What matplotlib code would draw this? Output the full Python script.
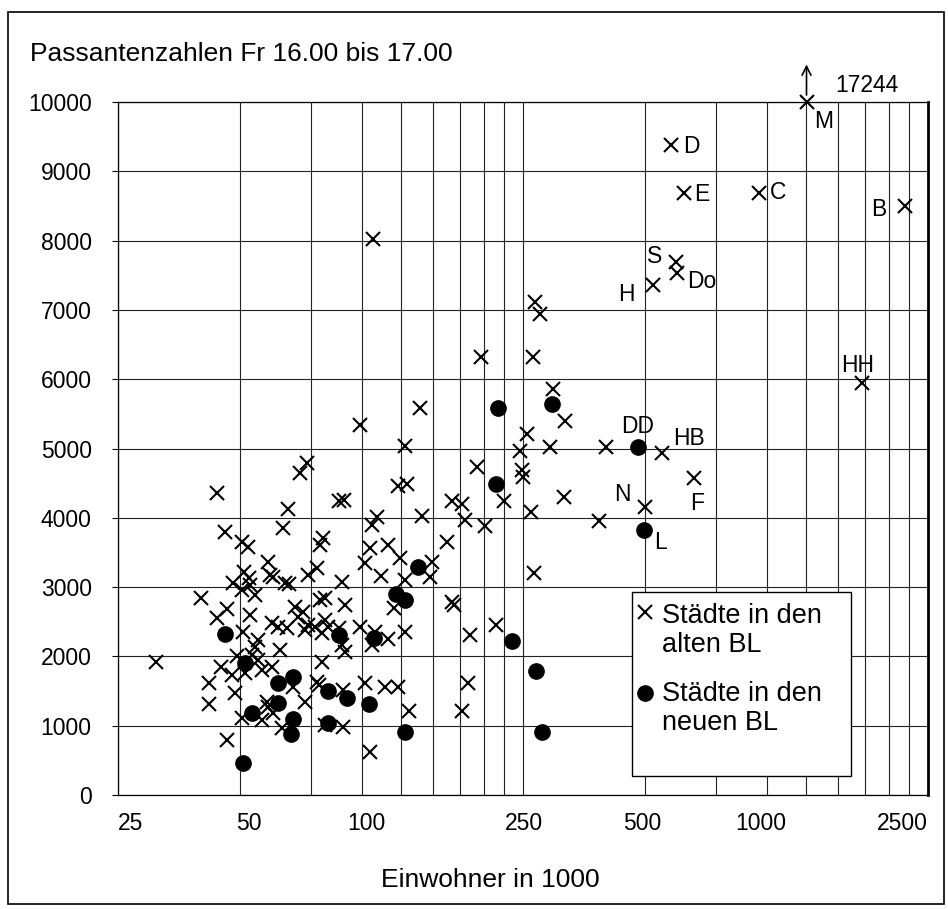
import matplotlib
matplotlib.use("Agg")
import matplotlib.pyplot as plt
from matplotlib.patches import Rectangle
from matplotlib.transforms import ScaledTranslation

# ---------------- data (Einwohner in 1000, Passanten Fr 16-17 Uhr) ----------------
old_x = [31, 40, 42, 42, 44, 44, 45, 46, 46.4, 46.4, 47.7, 48.2, 48.6, 49.1, 50.5, 52.4,
         51.3, 52.6, 50.5, 53, 54.5, 51, 53, 55.5, 54.5, 53.5, 55.5, 51.5, 56.6, 50.5, 56.6,
         58.2, 58.8, 60.5, 63.4, 58.8, 59.4, 60.5, 63.8, 65.9, 64.6, 66, 59.9, 62.2, 65.2,
         62.8, 59.9, 67.8, 68.4, 71.7, 69.7, 73.8, 77.4, 70.4, 73.1, 73.8, 72.4, 76.7, 78.9,
         81.2, 80.4, 78.9, 81.2, 82.7, 79.6, 87.6, 79.6, 77.4, 78.2, 72.4, 81.2, 90.1, 89.2,
         91, 90.1, 91, 89.2, 87.8, 90.5, 99, 99, 106.5, 102, 102, 105, 105, 106, 108, 106,
         109, 111.7, 114, 116, 116, 120, 123, 123, 129, 127.5, 124.5, 128, 127.5, 130.5, 139,
         141, 149, 147.6, 162, 167, 177, 167, 169, 180, 183, 177, 185, 192, 197, 201, 214,
         224, 246, 248, 250, 256, 262, 266, 265, 268, 276, 292, 297, 318, 316, 401, 386]
old_y = [1920, 2840, 1610, 1310, 2550, 4365, 1850, 3790, 2690, 795, 1730, 3055, 1470, 2000,
         3655, 3580, 3218, 3131, 2958, 3030, 2886, 2356, 2597, 2237, 2140, 2020, 1948, 1756,
         1804, 1107, 1082, 1346, 1274, 1179, 962, 3367, 3175, 3150, 3848, 4120, 3060, 3040,
         2478, 2429, 2405, 2092, 1851, 1563, 2717, 2645, 2573, 3175, 3271, 4642, 4786, 2453,
         2381, 2429, 2814, 2838, 3704, 3608, 2525, 2429, 2333, 2405, 1915, 1635, 1587, 1346,
         1010, 986, 2165, 2068, 1515, 2742, 3078, 4240, 4250, 2430, 5339, 8027, 3343, 1612,
         625, 3560, 2165, 2356, 3896, 4016, 3160, 1554, 3608, 2247, 2694, 1554, 4459, 4488,
         5036, 3416, 3102, 2348, 1212, 5580, 4030, 3355, 3146, 3655, 4238, 4199, 2789, 2742,
         3968, 1612, 1212, 2309, 4726, 6320, 3877, 2460, 4238, 4964, 4690, 4593, 5209, 4084,
         3203, 6316, 7118, 6941, 5026, 5859, 5397, 4304, 5026, 3954]

new_x = [46, 51.6, 62.2, 67.8, 62.2, 53.5, 67.8, 66.9, 51, 82.7, 91.8, 82.4, 87.6, 107, 104,
         127.5, 121.5, 127.8, 138, 235, 269, 278, 215, 217, 294]
new_y = [2323, 1909, 1612, 1707, 1323, 1179, 1092, 880, 457, 1501, 1400, 1035, 2309, 2261,
         1306, 902, 2900, 2814, 3294, 2222, 1789, 902, 4485, 5584, 5646]

city_code = ["M", "D", "E", "C", "B", "S", "Do", "H", "HH", "HB", "N", "F", "DD", "L"]
city_x = [1253, 579, 624, 957, 2194, 596, 599, 524, 1714, 552, 500, 661, 481, 496]
city_y = [17244, 9380, 8683, 8691, 8504, 7696, 7537, 7359, 5941, 4931, 4149, 4579, 5026, 3831]
city_bl = ["alt"] * 12 + ["neu", "neu"]

x_ticks = [25, 50, 100, 250, 500, 1000, 2500]
x_grid = [50, 75, 100, 125, 150, 175, 200, 225, 250, 500, 750, 1000, 1250, 1500, 1750, 2000, 2250]
y_ticks = list(range(0, 10001, 1000))

title = "Passantenzahlen Fr 16.00 bis 17.00"
x_label = "Einwohner in 1000"
legend_entries = [("Städte in den", "alten BL"), ("Städte in den", "neuen BL")]

# label offsets (points) relative to the city marker
label_offset = {"M": (12, -14), "D": (15, -1), "E": (13, -1), "C": (14, 0), "B": (-19, -3),
                "S": (-15, 4), "Do": (18, -6.5), "H": (-19, -7), "HH": (-3, 13),
                "DD": (0, 14.5), "HB": (19, 11), "N": (-16, 9.5), "F": (2, -18.5), "L": (12, -9)}
# small horizontal nudges (pixels) of the x tick labels, as set in the original
x_label_nudge = [0, 9, 5, 1, -3, -6, 0]

# ---------------- figure ----------------
FS_TICK = 16.5
FS_TITLE = 19
FS_XLAB = 19
FS_ANN = 16.5
FS_LEG = 19.5
plt.rcParams["font.family"] = ["Liberation Sans", "DejaVu Sans"]
W, H = 948, 909
fig = plt.figure(figsize=(W / 100, H / 100), dpi=100)
L, R, T, B = 118, 928, 102, 795
ax = fig.add_axes([L / W, 1 - B / H, (R - L) / W, (B - T) / H])
ax.set_xscale("log")
ax.set_xlim(25, 2500)
ax.set_ylim(0, 10000)


def axx(px):
    return (px - L) / (R - L)


def axy(py):
    return (B - py) / (B - T)


ax.set_xticks(x_ticks)
ax.set_xticklabels([str(v) for v in x_ticks], fontsize=FS_TICK)
ax.set_xticks(x_grid, minor=True)
ax.set_xticklabels([], minor=True)
ax.set_yticks(y_ticks)
ax.set_yticklabels([str(v) for v in y_ticks], fontsize=FS_TICK)
ax.tick_params(axis="x", which="both", length=0, pad=12)
ax.tick_params(axis="y", which="both", length=4, pad=15)
lbls = ax.get_xticklabels()
lbls[0].set_horizontalalignment("left")
lbls[-1].set_horizontalalignment("right")
for lab, nudge in zip(lbls, x_label_nudge):
    lab.set_transform(lab.get_transform() +
                      ScaledTranslation(nudge / 100, 0, fig.dpi_scale_trans))

ax.grid(True, which="both", axis="x", color="#222222", lw=0.8)
ax.grid(True, which="major", axis="y", color="#222222", lw=0.8)
ax.set_axisbelow(True)
for s in ["left", "bottom", "top"]:
    ax.spines[s].set_linewidth(0.9)
ax.spines["right"].set_linewidth(2.0)

ymax = 10000
cx_old = [x for x, b in zip(city_x, city_bl) if b == "alt"]
cy_old = [min(y, ymax) for y, b in zip(city_y, city_bl) if b == "alt"]
cx_new = [x for x, b in zip(city_x, city_bl) if b == "neu"]
cy_new = [min(y, ymax) for y, b in zip(city_y, city_bl) if b == "neu"]

cross_style = dict(linestyle="none", marker="x", ms=9.5, mew=1.5, color="black")
dot_style = dict(linestyle="none", marker="o", ms=11, color="black")
ax.plot(old_x + cx_old, old_y + cy_old, clip_on=False, zorder=3, **cross_style)
ax.plot(new_x + cx_new, new_y + cy_new, clip_on=False, zorder=3, **dot_style)

for code, x, y in zip(city_code, city_x, city_y):
    dx, dy = label_offset[code]
    ax.annotate(code, xy=(x, min(y, ymax)), xytext=(dx, dy), textcoords="offset points",
                ha="center", va="center", fontsize=FS_ANN, annotation_clip=False)

# arrow + true value for the clipped city
i_m = city_code.index("M")
ax.annotate("", xy=(city_x[i_m], ymax), xycoords="data", xytext=(0, 27),
            textcoords="offset points", annotation_clip=False,
            arrowprops=dict(arrowstyle="<-", lw=1.2, color="black", shrinkA=0, shrinkB=5,
                            mutation_scale=16))
ax.annotate(str(city_y[i_m]), xy=(city_x[i_m], ymax), xytext=(21, 12),
            textcoords="offset points", ha="left", va="center", fontsize=FS_ANN,
            annotation_clip=False)

ax.text(axx(30), axy(54), title, transform=ax.transAxes,
        ha="left", va="center", fontsize=FS_TITLE)
ax.set_xlabel(x_label, fontsize=FS_XLAB)
ax.xaxis.set_label_coords(axx(490), axy(880))
ax.xaxis.label.set_va("center")

# legend box (keys aligned with the first line of each entry)
ax.add_patch(Rectangle((axx(632), axy(776)), axx(851) - axx(632), axy(592) - axy(776),
                       transform=ax.transAxes, facecolor="white", edgecolor="black",
                       lw=1.0, zorder=5, clip_on=False))
key_styles = [cross_style, dot_style]
key_rows = [(612, 616, 645), (693, 694, 723)]
for (l1, l2), style, (ky, y1, y2) in zip(legend_entries, key_styles, key_rows):
    ax.plot([axx(645)], [axy(ky)], transform=ax.transAxes, zorder=6, clip_on=False, **style)
    ax.text(axx(662), axy(y1), l1, transform=ax.transAxes, ha="left", va="center",
            fontsize=FS_LEG, zorder=6)
    ax.text(axx(662), axy(y2), l2, transform=ax.transAxes, ha="left", va="center",
            fontsize=FS_LEG, zorder=6)

fig.patches.append(Rectangle((0.008, 0.006), 0.988, 0.981, transform=fig.transFigure,
                             fill=False, edgecolor="black", lw=1.2))

fig.savefig("out.png", dpi=100)
